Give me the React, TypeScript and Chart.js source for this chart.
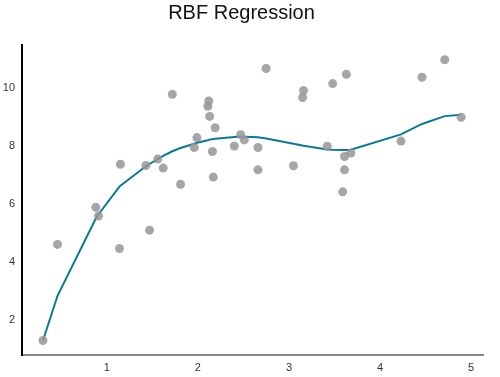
import React, { useEffect, useRef } from "react";
import { Chart, registerables } from "chart.js";

Chart.register(...registerables);

const pointX = [0.30, 0.46, 0.88, 0.91, 1.14, 1.15, 1.43, 1.47, 1.56, 1.62, 1.72, 1.81, 1.96, 1.99, 2.11, 2.12, 2.13, 2.16, 2.17, 2.19, 2.40, 2.47, 2.51, 2.66, 2.66, 2.75, 3.05, 3.15, 3.16, 3.42, 3.48, 3.59, 3.61, 3.61, 3.63, 3.68, 4.23, 4.46, 4.71, 4.89];
const pointY = [1.30, 4.61, 5.89, 5.59, 4.47, 7.37, 7.33, 5.10, 7.55, 7.24, 9.78, 6.68, 7.95, 8.29, 9.37, 9.55, 9.02, 7.81, 6.93, 8.63, 8.00, 8.39, 8.21, 7.95, 7.18, 10.67, 7.32, 9.67, 9.91, 7.99, 10.15, 6.42, 7.64, 7.18, 10.47, 7.76, 8.17, 10.37, 10.97, 8.99];

const curveX = [0.30, 0.46, 0.88, 0.91, 1.14, 1.15, 1.43, 1.47, 1.56, 1.62, 1.72, 1.81, 1.96, 1.99, 2.11, 2.13, 2.17, 2.19, 2.40, 2.47, 2.51, 2.66, 2.75, 3.05, 3.16, 3.42, 3.48, 3.59, 3.63, 3.68, 4.23, 4.46, 4.71, 4.89];
const curveY = [1.30, 2.84, 5.50, 5.65, 6.60, 6.63, 7.30, 7.38, 7.55, 7.66, 7.82, 7.93, 8.08, 8.11, 8.20, 8.22, 8.24, 8.25, 8.31, 8.32, 8.32, 8.30, 8.26, 8.08, 8.01, 7.88, 7.87, 7.86, 7.86, 7.87, 8.40, 8.76, 9.03, 9.08];

const xTicks = [1, 2, 3, 4, 5];
const yTicks = [2, 4, 6, 8, 10];

export default function App() {
  const ref = useRef<HTMLCanvasElement | null>(null);

  useEffect(() => {
    if (!ref.current) return;
    const chart = new Chart(ref.current, {
      type: "scatter",
      data: {
        datasets: [
          {
            type: "scatter",
            data: pointX.map((x, i) => ({ x, y: pointY[i] })),
            backgroundColor: "rgba(150,150,150,0.85)",
            borderWidth: 0,
            pointRadius: 4.5,
            order: 0,
          },
          {
            type: "line",
            data: curveX.map((x, i) => ({ x, y: curveY[i] })),
            borderColor: "#0a7896",
            borderWidth: 2,
            pointRadius: 0,
            fill: false,
            tension: 0,
            order: 1,
          } as any,
        ],
      },
      options: {
        animation: false,
        responsive: true,
        maintainAspectRatio: false,
        layout: { padding: { left: 0, right: 17, top: 0, bottom: 0 } },
        plugins: {
          legend: { display: false },
          tooltip: { enabled: false },
          title: {
            display: true,
            text: "RBF Regression",
            color: "#111",
            font: { family: "Liberation Sans, Arial, sans-serif", size: 20, weight: "normal" },
            padding: { top: 1, bottom: 20 },
          },
        },
        scales: {
          x: {
            type: "linear",
            min: 0.07,
            max: 5.13,
            afterFit: (s: any) => { s.height = 22; },
            afterBuildTicks: (s: any) => { s.ticks = xTicks.map((v) => ({ value: v })); },
            grid: { display: false, drawTicks: false },
            border: { display: true, color: "#888", width: 2 },
            ticks: {
              color: "#333",
              padding: 6,
              font: { family: "Liberation Sans, Arial, sans-serif", size: 11 },
              callback: (v: any) => String(v),
            },
          },
          y: {
            type: "linear",
            min: 0.8,
            max: 11.48,
            afterFit: (s: any) => { s.width = 22; },
            afterBuildTicks: (s: any) => { s.ticks = yTicks.map((v) => ({ value: v })); },
            grid: { display: false, drawTicks: false },
            border: { display: true, color: "#000", width: 2 },
            ticks: {
              color: "#333",
              padding: 7,
              font: { family: "Liberation Sans, Arial, sans-serif", size: 11 },
              callback: (v: any) => String(v),
            },
          },
        },
      },
    });
    return () => chart.destroy();
  }, []);

  return (
    <div style={{ position: "fixed", left: 0, top: 0, width: 500, height: 377, background: "#fff" }}>
      <canvas ref={ref} />
    </div>
  );
}
